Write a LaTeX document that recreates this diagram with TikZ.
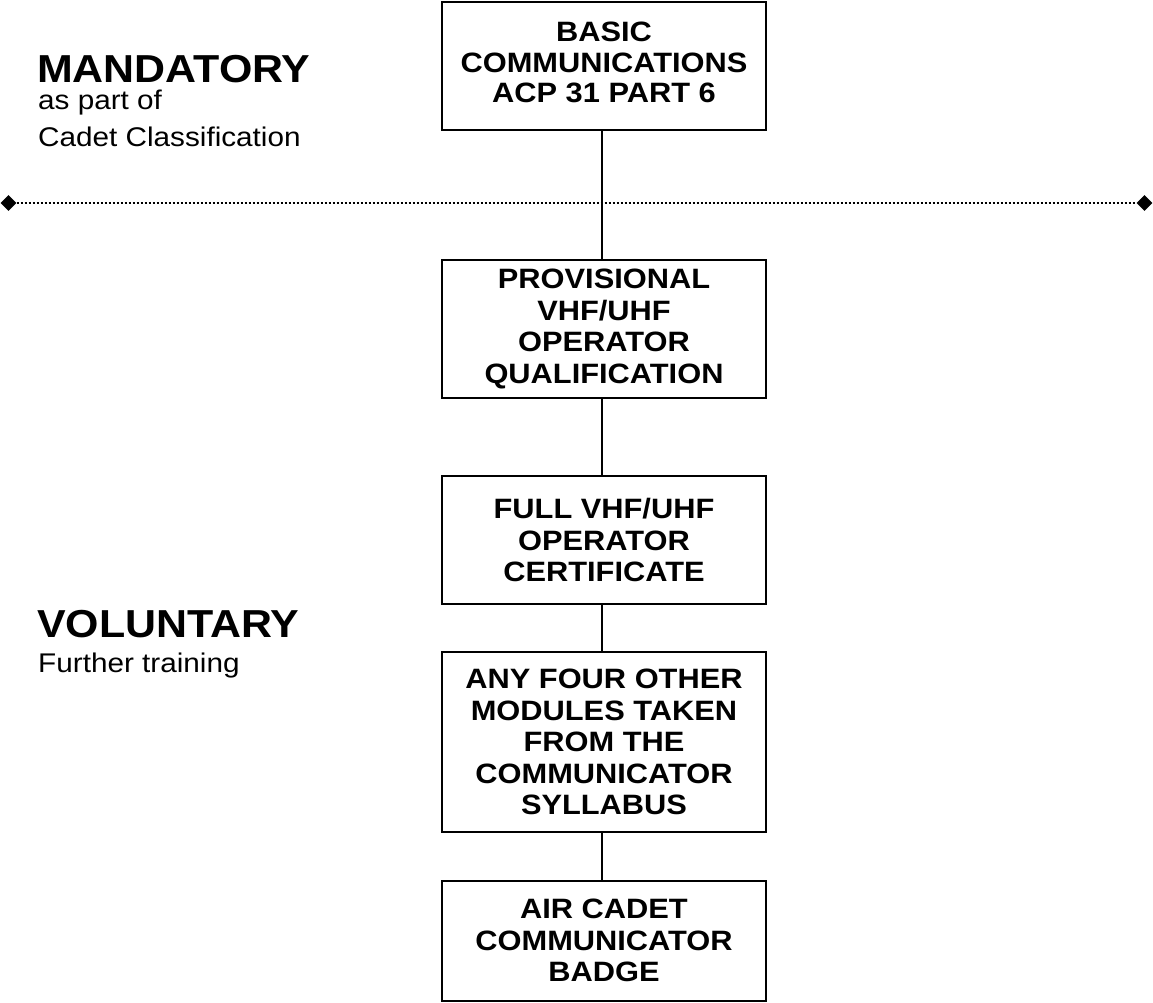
\documentclass[tikz,border=0pt]{standalone}
\usepackage{fontspec}
\setmainfont{Liberation Sans}[FakeStretch=1.1]
\usetikzlibrary{shapes.geometric}
\begin{document}
\begin{tikzpicture}[x=1pt,y=-1pt,
  box/.style={draw, line width=2pt, minimum width=324pt, align=center,
    font=\bfseries\fontsize{28}{31.5}\selectfont, inner sep=0pt},
  conn/.style={line width=2pt},
  gem/.style={diamond, fill=black, inner sep=0pt, minimum width=16pt, minimum height=16pt},
  bigtxt/.style={anchor=base west, inner sep=0pt, font=\bfseries\fontsize{39}{40}\selectfont},
  smalltxt/.style={anchor=base west, inner sep=0pt, font=\fontsize{27}{32}\selectfont}]
\useasboundingbox (0,0) rectangle (1153,1003);

\node[box, minimum height=128pt] (b1) at (604,66) {BASIC\\[-1pt]COMMUNICATIONS\\[-1pt]ACP 31 PART 6\\[-24pt]};
\node[box, minimum height=138pt] (b2) at (604,329) {PROVISIONAL\\VHF/UHF\\OPERATOR\\QUALIFICATION};
\node[box, minimum height=128pt] (b3) at (604,540) {FULL VHF/UHF\\OPERATOR\\CERTIFICATE};
\node[box, minimum height=180pt] (b4) at (604,742) {ANY FOUR OTHER\\MODULES TAKEN\\FROM THE\\COMMUNICATOR\\SYLLABUS};
\node[box, minimum height=120pt] (b5) at (604,940.5) {AIR CADET\\COMMUNICATOR\\BADGE};

\coordinate (cx) at (602,0);
\draw[conn] (b1.south -| cx) -- (b2.north -| cx);
\draw[conn] (b2.south -| cx) -- (b3.north -| cx);
\draw[conn] (b3.south -| cx) -- (b4.north -| cx);
\draw[conn] (b4.south -| cx) -- (b5.north -| cx);

\node[gem] (dl) at (8.5,203) {};
\node[gem] (dr) at (1144.5,203) {};
\draw[line width=2pt, dash pattern=on 2pt off 2pt] (dl.east) -- (dr.west);

\node[bigtxt] (mand) at (37,83) {MANDATORY};
\node[smalltxt] (mand1) at (38,110) {as part of};
\node[smalltxt] (mand2) at (38,147) {Cadet Classification};

\node[bigtxt] (vol) at (37,637) {VOLUNTARY};
\node[smalltxt] (vol1) at (38,672) {Further training};
\end{tikzpicture}
\end{document}
